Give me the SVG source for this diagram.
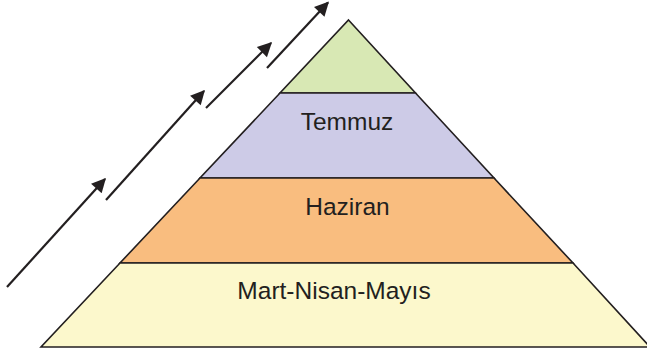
<svg xmlns="http://www.w3.org/2000/svg" width="647" height="353" viewBox="0 0 647 353">
<style>
.band{stroke:#231f20;stroke-width:1.6;stroke-linejoin:miter}
.lbl{font-family:"Liberation Sans",Arial,sans-serif;font-size:24.5px;fill:#231f20;text-anchor:middle}
.arr{stroke:#231f20;stroke-width:2.2;fill:none;marker-end:url(#ah)}
</style>
<defs>
<marker id="ah" viewBox="0 0 10 10" refX="9" refY="5" markerWidth="7.5" markerHeight="6.5" orient="auto" markerUnits="strokeWidth">
<path d="M0,0 L10,5 L0,10 Z" fill="#231f20"/>
</marker>
</defs>
<rect width="647" height="353" fill="#ffffff"/>
<g id="band-top">
<polygon class="band" points="348.5,20 415.5,93 280,93" fill="#d8e8b4"/>
</g>
<g id="band-temmuz">
<polygon class="band" points="280,93 415.5,93 494,178 200,178" fill="#cdcbe7"/>
<text class="lbl" x="347" y="129.5">Temmuz</text>
</g>
<g id="band-haziran">
<polygon class="band" points="200,178 494,178 573,263 120,263" fill="#f9bd7f"/>
<text class="lbl" x="347.5" y="214.5">Haziran</text>
</g>
<g id="band-mart">
<polygon class="band" points="120,263 573,263 650,347 41,347" fill="#fcf8cc"/>
<text class="lbl" x="334" y="299">Mart-Nisan-Mayıs</text>
</g>
<g id="connectors">
<line class="arr" x1="7" y1="287" x2="105" y2="179"/>
<line class="arr" x1="106" y1="200" x2="204" y2="91"/>
<line class="arr" x1="206" y1="108" x2="271" y2="43"/>
<line class="arr" x1="267" y1="68" x2="328" y2="2.5"/>
</g>
</svg>
